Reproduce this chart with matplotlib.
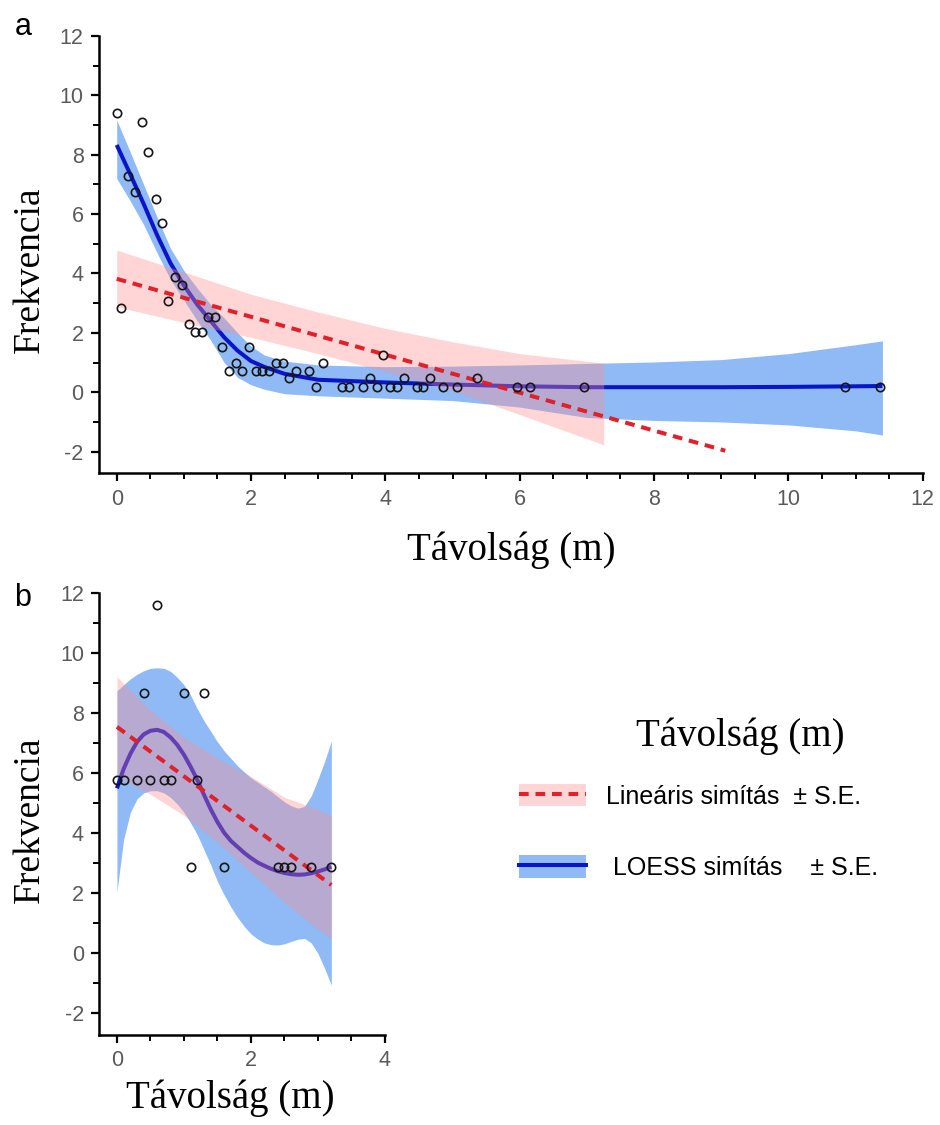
import numpy as np
import matplotlib.pyplot as plt
from matplotlib.patches import Patch
from matplotlib.lines import Line2D
from matplotlib.ticker import MultipleLocator

plt.rcParams['axes.unicode_minus'] = False

# ---- panel a data ----
dist_a = [0.0, 0.07, 0.17, 0.27, 0.37, 0.47, 0.58, 0.67, 0.77, 0.87, 0.97, 1.08, 1.17, 1.27,
          1.36, 1.46, 1.57, 1.67, 1.77, 1.87, 1.97, 2.07, 2.17, 2.27, 2.37, 2.47, 2.57, 2.67,
          2.87, 2.97, 3.07, 3.36, 3.46, 3.67, 3.77, 3.87, 3.97, 4.07, 4.17, 4.27, 4.47, 4.56,
          4.66, 4.86, 5.06, 5.37, 5.96, 6.16, 6.96, 10.85, 11.36]
freq_a = [9.39, 2.83, 7.28, 6.75, 9.11, 8.08, 6.5, 5.71, 3.08, 3.87, 3.61, 2.30, 2.04, 2.04,
          2.55, 2.55, 1.52, 0.72, 1.0, 0.72, 1.52, 0.72, 0.72, 0.72, 0.98, 0.98, 0.47, 0.72,
          0.72, 0.19, 0.98, 0.19, 0.19, 0.19, 0.47, 0.19, 1.25, 0.19, 0.19, 0.47, 0.19, 0.19,
          0.47, 0.19, 0.19, 0.47, 0.19, 0.19, 0.19, 0.19, 0.19]

loess_a_x = [0, 0.2, 0.4, 0.6, 0.8, 1.0, 1.2, 1.4, 1.6, 1.8, 2.0, 2.2, 2.5, 3.0, 4.0, 5.0,
             6.0, 7.0, 8.0, 9.0, 10.0, 11.0, 11.4]
loess_a_y = [8.33, 7.35, 6.35, 5.3, 4.35, 3.6, 2.95, 2.4, 1.85, 1.4, 1.05, 0.85, 0.62, 0.42,
             0.33, 0.26, 0.2, 0.17, 0.17, 0.17, 0.18, 0.2, 0.21]
loess_a_hi = [9.17, 8.1, 7.0, 5.9, 4.85, 4.1, 3.5, 2.95, 2.5, 2.0, 1.55, 1.25, 1.05, 0.92,
              0.86, 0.88, 0.92, 0.97, 1.02, 1.1, 1.3, 1.6, 1.73]
loess_a_lo = [7.2, 6.45, 5.65, 4.7, 3.8, 3.1, 2.4, 1.75, 1.0, 0.5, 0.25, 0.1, -0.05, -0.12,
              -0.2, -0.28, -0.5, -0.85, -0.95, -1.0, -1.1, -1.3, -1.44]

lin_a_x = [0, 9.06]
lin_a_y = [3.82, -1.97]
lin_a_band_x = [0, 1, 2, 3, 4, 5, 6, 7.25]
lin_a_hi = [4.79, 4.05, 3.3, 2.7, 2.15, 1.7, 1.3, 0.98]
lin_a_lo = [2.88, 2.35, 1.85, 1.3, 0.7, 0.05, -0.75, -1.77]

# ---- panel b data ----
dist_b = [0.0, 0.1, 0.3, 0.5, 0.7, 0.8, 1.2, 0.4, 1.0, 1.3, 0.6, 1.1, 1.6, 2.4, 2.5, 2.6, 2.9, 3.2]
freq_b = [5.78, 5.78, 5.78, 5.78, 5.78, 5.78, 5.78, 8.67, 8.67, 8.67, 11.6, 2.89, 2.89, 2.89,
          2.89, 2.89, 2.89, 2.89]

loess_b_x = [0, 0.1, 0.2, 0.3, 0.4, 0.5, 0.6, 0.7, 0.8, 0.9, 1.0, 1.1, 1.2, 1.3, 1.4, 1.5,
             1.6, 1.7, 1.8, 1.9, 2.0, 2.1, 2.2, 2.3, 2.4, 2.5, 2.6, 2.7, 2.8, 2.9, 3.0, 3.1, 3.2]
loess_b_y = [5.5, 6.15, 6.65, 7.05, 7.3, 7.42, 7.45, 7.38, 7.2, 6.95, 6.62, 6.22, 5.78, 5.28,
             4.8, 4.38, 4.02, 3.75, 3.55, 3.35, 3.18, 3.03, 2.92, 2.82, 2.74, 2.68, 2.64, 2.62,
             2.63, 2.67, 2.73, 2.8, 2.89]
loess_b_hi = [8.75, 8.95, 9.15, 9.3, 9.42, 9.5, 9.52, 9.5, 9.4, 9.2, 8.95, 8.6, 8.15, 7.75,
              7.4, 7.05, 6.75, 6.5, 6.25, 6.05, 5.85, 5.7, 5.55, 5.4, 5.22, 5.05, 4.92, 4.84,
              4.9, 5.25, 5.8, 6.4, 7.07]
loess_b_lo = [2.06, 3.8, 4.7, 5.15, 5.35, 5.42, 5.42, 5.35, 5.2, 4.98, 4.7, 4.35, 3.95, 3.45,
              2.95, 2.4, 1.95, 1.55, 1.2, 0.9, 0.65, 0.48, 0.35, 0.29, 0.28, 0.32, 0.4, 0.47,
              0.5, 0.35, 0.0, -0.5, -1.06]

lin_b_x = [0, 3.2]
lin_b_y = [7.55, 2.28]
lin_b_band_x = [0, 0.5, 1.0, 1.5, 2.0, 2.5, 3.0, 3.2]
lin_b_hi = [9.22, 8.1, 7.2, 6.5, 5.9, 5.2, 4.8, 4.6]
lin_b_lo = [5.9, 5.3, 4.6, 3.7, 2.7, 1.7, 0.8, 0.5]

BLUE_BAND = '#8fbaf5'
BLUE_LINE = '#0a14c8'
PINK = '#ff8c8c'
RED = '#e0202a'
TICK_GRAY = '#5a5a5a'
SERIF = 'Liberation Serif'
SANS = 'Liberation Sans'

fig = plt.figure(figsize=(9.4, 11.25), dpi=100)
ax_a = fig.add_axes([0.1053, 0.5793, 0.8763, 0.3887])
ax_b = fig.add_axes([0.1056, 0.0800, 0.3039, 0.3926])


def draw_panel(ax, dist, freq, lx, ly, lhi, llo, rx, ry, rbx, rhi, rlo):
    ax.fill_between(lx, llo, lhi, color=BLUE_BAND, lw=0, zorder=1)
    ax.plot(lx, ly, color=BLUE_LINE, lw=2.9, zorder=2, solid_capstyle='butt')
    ax.fill_between(rbx, rlo, rhi, color=PINK, alpha=0.36, lw=0, zorder=3)
    ax.plot(rx, ry, color=RED, lw=2.9, ls=(0, (2.4, 1.7)), zorder=4)
    ax.plot(dist, freq, 'o', ms=6, mfc='none', mec='#151515', mew=1.2, zorder=5)
    for side in ['top', 'right']:
        ax.spines[side].set_visible(False)
    for side in ['left', 'bottom']:
        ax.spines[side].set_linewidth(1.8)
    ax.yaxis.set_major_locator(MultipleLocator(2))
    ax.yaxis.set_minor_locator(MultipleLocator(1))
    ax.xaxis.set_major_locator(MultipleLocator(2))
    ax.xaxis.set_minor_locator(MultipleLocator(0.5))
    ax.tick_params(which='major', length=6, width=1.6, labelsize=15.5,
                   labelcolor=TICK_GRAY, pad=5)
    ax.tick_params(which='minor', length=4.5, width=1.4)
    ax.set_xlabel('Távolság (m)', family=SERIF, fontsize=28, va='center')
    ax.set_ylabel('Frekvencia', family=SERIF, fontsize=27, va='center')


draw_panel(ax_a, dist_a, freq_a, loess_a_x, loess_a_y, loess_a_hi, loess_a_lo,
           lin_a_x, lin_a_y, lin_a_band_x, lin_a_hi, lin_a_lo)
ax_a.set_xlim(-0.264, 12)
ax_a.set_ylim(-2.73, 12)
ax_a.xaxis.set_label_coords(0.5, -0.175)
ax_a.yaxis.set_label_coords(-0.084, 0.465)

draw_panel(ax_b, dist_b, freq_b, loess_b_x, loess_b_y, loess_b_hi, loess_b_lo,
           lin_b_x, lin_b_y, lin_b_band_x, lin_b_hi, lin_b_lo)
ax_b.set_xlim(-0.264, 4)
ax_b.set_ylim(-2.72, 12)
ax_b.xaxis.set_label_coords(0.457, -0.143)
ax_b.yaxis.set_label_coords(-0.243, 0.487)

for ax in (ax_a, ax_b):
    for lab in ax.get_xticklabels() + ax.get_yticklabels():
        lab.set_family(SANS)

fig.text(23 / 940, 1 - 27 / 1125, 'a', family=SANS, fontsize=22, ha='center', va='center')
fig.text(23 / 940, 1 - 598 / 1125, 'b', family=SANS, fontsize=22, ha='center', va='center')

# legend
fig.text(740 / 940, 1 - 736 / 1125, 'Távolság (m)', family=SERIF, fontsize=28,
         ha='center', va='center')
handles = [(Patch(facecolor=PINK, alpha=0.36, lw=0),
            Line2D([], [], color=RED, lw=2.9, ls=(0, (2.4, 1.7)))),
           (Patch(facecolor=BLUE_BAND, lw=0),
            Line2D([], [], color=BLUE_LINE, lw=2.9))]
labels = ['Lineáris simítás  ± S.E.', ' LOESS simítás    ± S.E.']
fig.legend(handles, labels, loc='upper left', bbox_to_anchor=(519 / 940, 1 - 784 / 1125),
           frameon=False, prop={'family': SANS, 'size': 18}, handlelength=2.68,
           handleheight=1.0, handletextpad=0.8, labelspacing=1.86, borderpad=0,
           borderaxespad=0)

fig.savefig('out.png', dpi=100)
